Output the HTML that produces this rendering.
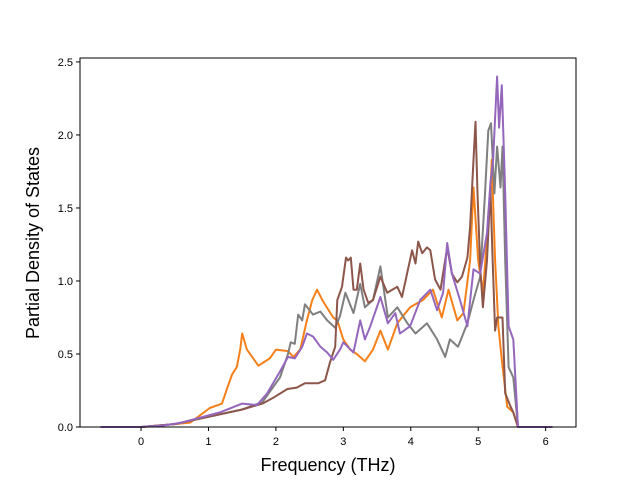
<!DOCTYPE html>
<html><head><meta charset="utf-8"><style>
body{margin:0;background:#fff;font-family:"Liberation Sans","DejaVu Sans",sans-serif}
</style></head><body>
<svg id="chart" width="640" height="480" xmlns="http://www.w3.org/2000/svg" font-family="Liberation Sans, DejaVu Sans, sans-serif">
<g id="plot"></g>
<text x="328" y="471" text-anchor="middle" font-size="18">Frequency (THz)</text>
<text transform="translate(39,243) rotate(-90)" text-anchor="middle" font-size="18">Partial Density of States</text>
</svg>
<script>
const xTicks=[0,1,2,3,4,5,6];
const yTicks=[0.0,0.5,1.0,1.5,2.0,2.5];
const yTickLabels=["0.0","0.5","1.0","1.5","2.0","2.5"];
const seriesNames=["orange","gray","brown","purple"];
const orangeF=[-0.6,0,0.5,0.73,1.02,1.2,1.28,1.35,1.42,1.47,1.5,1.57,1.74,1.91,2.0,2.18,2.26,2.36,2.46,2.54,2.61,2.7,2.85,2.91,3.0,3.1,3.2,3.32,3.44,3.55,3.66,3.8,3.99,4.18,4.33,4.46,4.56,4.69,4.78,4.88,4.93,5.0,5.07,5.18,5.2,5.25,5.3,5.35,5.43,5.52,5.59,6.1];
const orangeV=[0,0,0.02,0.03,0.13,0.16,0.27,0.36,0.41,0.53,0.64,0.53,0.42,0.47,0.53,0.52,0.48,0.53,0.73,0.87,0.94,0.86,0.75,0.73,0.6,0.53,0.5,0.45,0.53,0.66,0.53,0.71,0.82,0.87,0.94,0.75,0.94,0.73,0.78,1.14,1.64,1.14,0.92,1.6,1.83,1.14,0.69,0.46,0.14,0.1,0,0];
const purpleF=[-0.6,0,0.33,0.6,1.17,1.5,1.72,1.87,2.06,2.18,2.28,2.39,2.46,2.55,2.66,2.76,2.85,2.95,3.0,3.15,3.25,3.32,3.4,3.55,3.66,3.77,3.84,3.99,4.14,4.29,4.39,4.48,4.54,4.61,4.73,4.84,4.93,5.03,5.13,5.18,5.22,5.28,5.31,5.35,5.4,5.45,5.52,5.59,6.1];
const purpleV=[0,0,0.01,0.03,0.1,0.16,0.15,0.23,0.38,0.48,0.47,0.55,0.64,0.62,0.55,0.51,0.46,0.53,0.58,0.51,0.73,0.6,0.69,0.89,0.71,0.78,0.64,0.69,0.87,0.94,0.8,0.92,1.26,1.05,0.87,0.69,1.08,1.05,1.33,1.67,1.83,2.4,2.05,2.34,1.6,0.69,0.6,0,0];
const grayF=[-0.6,0,0.5,1.0,1.5,1.8,2.06,2.18,2.22,2.28,2.33,2.39,2.43,2.55,2.66,2.76,2.88,2.95,3.03,3.15,3.25,3.32,3.44,3.55,3.66,3.8,3.95,4.07,4.24,4.39,4.51,4.58,4.7,4.84,4.93,5.03,5.1,5.15,5.19,5.24,5.28,5.33,5.36,5.4,5.45,5.52,5.59,6.1];
const grayV=[0,0,0.02,0.07,0.12,0.17,0.34,0.5,0.58,0.57,0.77,0.73,0.84,0.77,0.79,0.73,0.68,0.76,0.92,0.78,0.98,0.82,0.87,1.1,0.75,0.82,0.71,0.64,0.71,0.6,0.48,0.6,0.55,0.71,0.87,1.03,1.6,2.03,2.08,1.6,1.92,1.64,1.92,1.14,0.41,0.34,0,0];
const brownF=[-0.6,0,0.5,1.0,1.5,1.8,1.96,2.17,2.31,2.43,2.63,2.73,2.8,2.88,2.91,2.98,3.04,3.07,3.11,3.15,3.2,3.25,3.3,3.37,3.44,3.55,3.65,3.8,3.87,4.02,4.07,4.11,4.17,4.24,4.29,4.36,4.44,4.54,4.61,4.69,4.76,4.84,4.88,4.93,4.96,4.99,5.03,5.07,5.13,5.18,5.21,5.25,5.28,5.36,5.4,5.48,5.52,5.59,6.1];
const brownV=[0,0,0.02,0.07,0.12,0.16,0.2,0.26,0.27,0.3,0.3,0.32,0.44,0.55,0.87,0.96,1.16,1.14,1.16,0.94,0.94,1.12,0.94,0.85,0.87,1.03,0.92,0.96,0.89,1.21,1.12,1.27,1.19,1.23,1.21,1.01,0.94,1.23,1.05,0.99,1.03,1.16,1.37,1.83,2.09,1.6,1.1,0.82,1.14,1.64,1.19,0.66,0.75,0.75,0.23,0.14,0.1,0,0];
const L=80,R=576,T=58,B=427,XMIN=-0.905,XMAX=6.45,YMIN=0,YMAX=2.527;
const sx=f=>L+(f-XMIN)/(XMAX-XMIN)*(R-L);
const sy=v=>B-(v-YMIN)/(YMAX-YMIN)*(B-T);
const NS="http://www.w3.org/2000/svg";
const g=document.getElementById('plot');
function mk(t,a){const e=document.createElementNS(NS,t);for(const k in a)e.setAttribute(k,a[k]);g.appendChild(e);return e;}
const sets=[[orangeF,orangeV,"#f5801a"],[grayF,grayV,"#7f7f7f"],[brownF,brownV,"#8c564b"],[purpleF,purpleV,"#9467bd"]];
sets.forEach((s,i)=>{
 const d=s[0].map((f,j)=>(j?'L':'M')+sx(f).toFixed(1)+','+sy(s[1][j]).toFixed(1)).join('');
 const p=mk('path',{d:d,fill:'none',stroke:s[2],'stroke-width':2,'stroke-linejoin':'round'});
 
 
});
const fr=mk('rect',{x:L,y:T,width:R-L,height:B-T,fill:'none',stroke:'#000','stroke-width':1});


xTicks.forEach(t=>{
 const x=sx(t);
 const tk=mk('line',{x1:x,x2:x,y1:B,y2:B+4,stroke:'#000'});
 
 
 const tx=mk('text',{x:x,y:B+18,'text-anchor':'middle','font-size':11});
 tx.textContent=t;
 
 
});
yTicks.forEach((t,i)=>{
 const y=sy(t);
 const tk=mk('line',{x1:L-4,x2:L,y1:y,y2:y,stroke:'#000'});
 
 
 const tx=mk('text',{x:L-7,y:y+4,'text-anchor':'end','font-size':11});
 tx.textContent=yTickLabels[i];
 
 
});
</script>
</body></html>
